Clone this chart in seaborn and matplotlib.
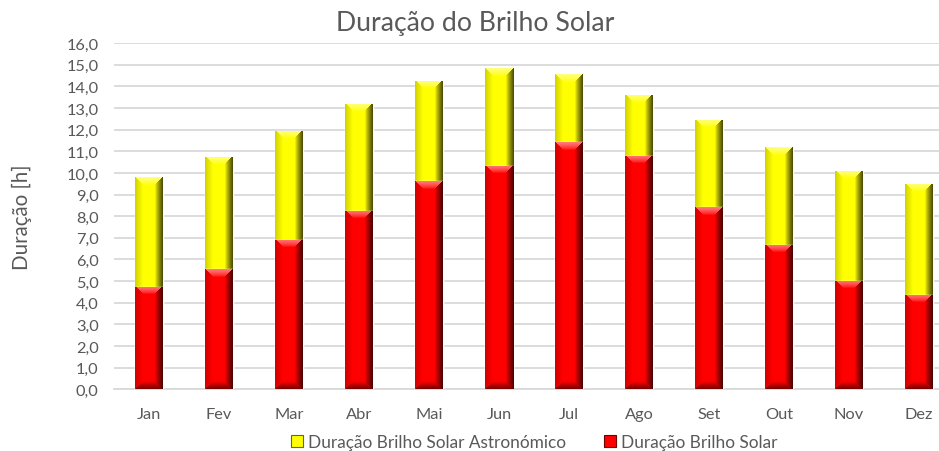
import numpy as np
import pandas as pd
import matplotlib
matplotlib.use("Agg")
import matplotlib.pyplot as plt
from matplotlib.ticker import FuncFormatter, MultipleLocator
from matplotlib.patches import Patch
import seaborn as sns

# Monthly sunshine duration (hours per day)
months = ["Jan", "Fev", "Mar", "Abr", "Mai", "Jun",
          "Jul", "Ago", "Set", "Out", "Nov", "Dez"]
astronomical = [9.80, 10.75, 11.94, 13.19, 14.27, 14.84,
                14.56, 13.60, 12.45, 11.18, 10.09, 9.49]
measured = [4.74, 5.54, 6.90, 8.24, 9.61, 10.33,
            11.41, 10.80, 8.41, 6.68, 5.02, 4.36]

label_astro = "Duração Brilho Solar Astronómico"
label_meas = "Duração Brilho Solar"
title = "Duração do Brilho Solar"
ylabel = "Duração [h]"

YELLOW = (1.0, 1.0, 0.0)
RED = (1.0, 0.0, 0.0)
TEXT = "#595959"
GRID = "#d9d9d9"

sns.set_theme(style="white")
plt.rcParams["font.family"] = ["Lato", "DejaVu Sans"]

df = pd.DataFrame({"mes": months, "astro": astronomical, "medido": measured})

fig = plt.figure(figsize=(9.39, 4.52), dpi=100)
W, H = 939, 452
ax = fig.add_axes([114 / W, (H - 390.2) / H, 840 / W, (390.2 - 44.2) / H])

sns.barplot(data=df, x="mes", y="astro", color=YELLOW, width=0.4,
            saturation=1, ax=ax, zorder=2)
n_yellow = len(ax.patches)
sns.barplot(data=df, x="mes", y="medido", color=RED, width=0.4,
            saturation=1, ax=ax, zorder=3)

ax.set_xlim(-0.5, len(months) - 0.5)
ax.set_ylim(0, 16)


def bevel_image(base, w_px, h_px, d=8.0):
    """Angle-bevel shading for a column of the given pixel size."""
    nx = max(int(round(w_px)), 2)
    ny = max(int(round(h_px)), 2)
    xs = np.arange(nx) + 0.5
    ys = np.arange(ny) + 0.5
    X, Y = np.meshgrid(xs, ys)
    d_left = X
    d_right = nx - X
    d_top = Y
    d_bot = ny - Y
    base = np.array(base, dtype=float)
    img = np.tile(base, (ny, nx, 1))
    dist = np.stack([d_left, d_right, d_top, d_bot])
    face = np.argmin(dist, axis=0)
    mind = np.min(dist, axis=0)
    inside = mind < d
    t = np.clip(1 - mind / d, 0, 1)  # 1 at the outer edge
    out = img.copy()
    # left face: slightly darker
    m = inside & (face == 0)
    out[m] = img[m] * (1 - 0.18 * t[m])[:, None]
    # right face: strong darkening toward the edge
    m = inside & (face == 1)
    out[m] = img[m] * (1 - 0.72 * t[m] ** 0.8)[:, None]
    # top face: highlight
    m = inside & (face == 2)
    k = (0.5 * t[m] ** 0.7)[:, None]
    out[m] = img[m] * (1 - k) + k
    # bottom face: darker
    m = inside & (face == 3)
    out[m] = img[m] * (1 - 0.55 * t[m])[:, None]
    return np.clip(out, 0, 1)


fig.canvas.draw()
to_px = ax.transData
for i, p in enumerate(ax.patches):
    x0, y0 = p.get_x(), p.get_y()
    w, h = p.get_width(), p.get_height()
    (px0, py0), (px1, py1) = to_px.transform([(x0, y0), (x0 + w, y0 + h)])
    base = YELLOW if i < n_yellow else RED
    img = bevel_image(base, abs(px1 - px0), abs(py1 - py0))
    im = ax.imshow(img, extent=(x0, x0 + w, y0, y0 + h), origin="upper",
                   aspect="auto", interpolation="nearest",
                   zorder=p.get_zorder() + 0.1)
    im.set_clip_path(p)

ax.set_aspect("auto")
ax.set_xlim(-0.5, len(months) - 0.5)
ax.set_ylim(0, 16)

ax.yaxis.set_major_locator(MultipleLocator(1))
ax.yaxis.set_major_formatter(FuncFormatter(lambda v, _: f"{v:.1f}".replace(".", ",")))
ax.grid(axis="y", color=GRID, linewidth=1.3, zorder=0)
ax.set_axisbelow(True)
for s in ["top", "right", "left"]:
    ax.spines[s].set_visible(False)
ax.spines["bottom"].set_color(GRID)
ax.spines["bottom"].set_linewidth(1.3)
ax.tick_params(axis="y", length=0, pad=11, labelsize=11.8, colors=TEXT)
ax.tick_params(axis="x", length=0, pad=13, labelsize=11.8, colors=TEXT)
ax.set_xlabel("")
ax.set_ylabel(ylabel, fontsize=14.8, color=TEXT, labelpad=25)

fig.text(475 / W, 1 - 23 / H, title, ha="center", va="center",
         fontsize=19.2, color=TEXT)

handles = [Patch(facecolor=YELLOW, edgecolor="#6b6b00", linewidth=0.8),
           Patch(facecolor=RED, edgecolor="#700000", linewidth=0.8)]
fig.legend(handles, [label_astro, label_meas], loc="center",
           bbox_to_anchor=(534 / W, 1 - 443 / H), ncol=2, frameon=False,
           fontsize=12.4, labelcolor=TEXT, handlelength=0.7, handleheight=0.7,
           handletextpad=0.3, columnspacing=2.2)

fig.savefig("out.png", dpi=100)
